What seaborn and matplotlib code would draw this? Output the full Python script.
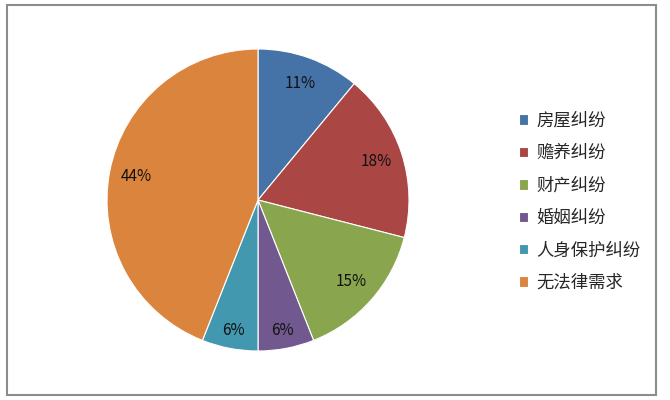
import matplotlib
matplotlib.use("Agg")
import matplotlib.pyplot as plt
import seaborn as sns
from matplotlib.patches import Rectangle

categories = ["房屋纠纷", "赡养纠纷", "财产纠纷", "婚姻纠纷", "人身保护纠纷", "无法律需求"]
values = [11, 18, 15, 6, 6, 44]
colors = ["#4572A7", "#AA4643", "#89A54E", "#71588F", "#4198AF", "#DB843D"]

sns.set_theme(style="white")
plt.rcParams['font.family'] = ['Noto Sans CJK SC', 'DejaVu Sans']

fig = plt.figure(figsize=(6.7, 4.0), dpi=100)
fig.patch.set_facecolor("white")
ax = fig.add_axes([107/670, 49/400, 302/670, 302/400])
palette = sns.color_palette(colors)
wedges, texts, autotexts = ax.pie(
    values, colors=palette, startangle=90, counterclock=False,
    autopct=lambda p: f"{p:.0f}%", pctdistance=0.82,
    wedgeprops=dict(edgecolor="white", linewidth=0.8),
    textprops=dict(fontsize=11, color="#111111"))
for t, v in zip(autotexts, values):
    if v < 8:
        x, y = t.get_position()
        t.set_position((x * 0.88 / 0.82, y * 0.88 / 0.82))
ax.set_aspect("equal")
ax.set_xlim(-1, 1)
ax.set_ylim(-1, 1)

leg = fig.legend(wedges, categories, loc="upper left",
                 bbox_to_anchor=(510/670, 1 - 103/400), frameon=False,
                 fontsize=12.5, handlelength=0.55, handleheight=0.55,
                 handletextpad=0.45, labelspacing=0.83, borderpad=0)

fig.add_artist(Rectangle((7/670, 5/400), 649/670, 390/400, transform=fig.transFigure,
                         fill=False, edgecolor="#8c8c8c", linewidth=1.5))
fig.savefig("out.png", dpi=100)
